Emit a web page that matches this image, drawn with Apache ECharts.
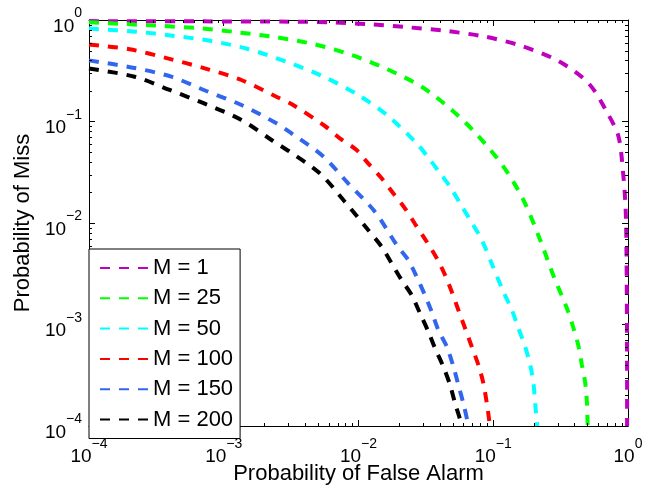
<!DOCTYPE html>
<html><head><meta charset="utf-8">
<script src="https://cdn.jsdelivr.net/npm/echarts@6/dist/echarts.min.js"></script>
<style>html,body{margin:0;padding:0;background:#fff}#c{width:661px;height:491px}</style>
</head><body><div id="c"></div>
<script>
const seriesNames = ['M = 1', 'M = 25', 'M = 50', 'M = 100', 'M = 150', 'M = 200'];
const seriesColors = ['#BF00BF', '#00FF00', '#00FFFF', '#FF0000', '#3366EE', '#000000'];

const pfaM1 = [1e-4, 6.6e-4, 3.27e-3, 6.31e-3, 0.0122, 0.0234, 0.0452, 0.087, 0.163, 0.305, 0.51, 0.717, 0.851, 0.918, 0.96, 0.974, 0.983, 0.985];
const pmM1  = [0.975, 0.97, 0.962, 0.949, 0.907, 0.847, 0.779, 0.685, 0.554, 0.394, 0.238, 0.116, 0.0709, 0.032, 0.014, 0.0054, 0.00088, 0.0001];

const pfaM25 = [1e-4, 1.84e-4, 3.52e-4, 6.82e-4, 1.27e-3, 2.46e-3, 4.74e-3, 8.89e-3, 0.0162, 0.0294, 0.0492, 0.0754, 0.119, 0.1675, 0.223, 0.2785, 0.352, 0.394, 0.43, 0.455, 0.482, 0.496, 0.501, 0.503];
const pmM25  = [0.95, 0.913, 0.873, 0.828, 0.756, 0.675, 0.576, 0.452, 0.329, 0.22, 0.13, 0.0748, 0.0359, 0.01685, 0.0068, 0.00307, 0.001445, 0.000918, 0.000604, 0.000399, 0.000263, 0.000167, 0.00011, 0.0001];

const pfaM50 = [1e-4, 2.24e-4, 4.17e-4, 8.09e-4, 1.507e-3, 2.92e-3, 5.32e-3, 9.68e-3, 0.0162, 0.027, 0.034, 0.0403, 0.0478, 0.0567, 0.0673, 0.0822, 0.0989, 0.119, 0.1374, 0.1538, 0.1725, 0.188, 0.1988, 0.2046, 0.2107, 0.212];
const pmM50  = [0.824, 0.767, 0.70, 0.621, 0.518, 0.388, 0.2826, 0.1866, 0.1159, 0.061, 0.0418, 0.0309, 0.0228, 0.01564, 0.01071, 0.0068, 0.00379, 0.0021, 0.00139, 0.000918, 0.000604, 0.000399, 0.000263, 0.000167, 0.00011, 0.0001];

const pfaM100 = [1e-4, 2.0e-4, 3.83e-4, 7.22e-4, 1.353e-3, 2.46e-3, 3.27e-3, 5.63e-3, 7.27e-3, 9.68e-3, 0.0118, 0.01485, 0.0181, 0.0221, 0.0263, 0.0321, 0.0381, 0.0439, 0.0492, 0.0551, 0.0618, 0.0693, 0.0776, 0.0845, 0.0896, 0.0936, 0.094];
const pmM100  = [0.573, 0.515, 0.419, 0.334, 0.2563, 0.1754, 0.1454, 0.0903, 0.0683, 0.0524, 0.0387, 0.02757, 0.01962, 0.01396, 0.00977, 0.00654, 0.00449, 0.00307, 0.0021, 0.00139, 0.000918, 0.000604, 0.000399, 0.000263, 0.000167, 0.00011, 0.0001];

const pfaM150 = [1e-4, 2.12e-4, 4.08e-4, 7.43e-4, 1.353e-3, 2.46e-3, 3.18e-3, 5.46e-3, 8.38e-3, 0.01324, 0.0192, 0.0234, 0.027, 0.0311, 0.0349, 0.0391, 0.0452, 0.0506, 0.0551, 0.060, 0.0647, 0.0652];
const pmM150  = [0.40, 0.339, 0.2763, 0.1998, 0.1454, 0.096, 0.0765, 0.0454, 0.0246, 0.01292, 0.00607, 0.00432, 0.00296, 0.00195, 0.00134, 0.000882, 0.000604, 0.000384, 0.000254, 0.000167, 0.000108, 0.0001];

const pfaM200 = [1e-4, 2.18e-4, 3.97e-4, 7.43e-4, 1.353e-3, 2.32e-3, 3.09e-3, 5.16e-3, 7.92e-3, 0.0118, 0.01485, 0.0176, 0.0209, 0.0248, 0.0286, 0.033, 0.037, 0.0426, 0.0478, 0.0521, 0.0574, 0.058];
const pmM200  = [0.333, 0.2763, 0.2044, 0.1477, 0.1035, 0.0643, 0.0504, 0.0309, 0.0162, 0.00853, 0.00584, 0.00401, 0.00274, 0.00195, 0.00129, 0.000849, 0.000583, 0.000384, 0.000254, 0.000167, 0.00011, 0.0001];

const tickExponents = [-4, -3, -2, -1, 0];
const axisMin = 1e-4, axisMax = 1;

const pfaList = [pfaM1, pfaM25, pfaM50, pfaM100, pfaM150, pfaM200];
const pmList = [pmM1, pmM25, pmM50, pmM100, pmM150, pmM200];

const FONT = '"Liberation Sans", Arial, Helvetica, sans-serif';

const minorVals = [];
for (let d = tickExponents[0]; d < tickExponents[tickExponents.length - 1]; d++) {
  for (let k = 2; k <= 9; k++) minorVals.push(k * Math.pow(10, d));
}

function fmt(v) {
  const e = Math.round(Math.log10(v));
  const s = e < 0 ? '\u2212' + Math.abs(e) : String(e);
  return '{b|10}{s|' + s + '}';
}
const rich = {
  b: { fontSize: 19, lineHeight: 19, padding: [13, 0, 0, 0], verticalAlign: 'middle', color: '#000', fontFamily: FONT },
  s: { fontSize: 14, lineHeight: 14, padding: [0, 0, 13, 0], verticalAlign: 'middle', color: '#000', fontFamily: FONT }
};

const lineSeries = seriesNames.map((n, i) => ({
  name: n,
  type: 'line',
  xAxisIndex: 0, yAxisIndex: 0,
  data: pfaList[i].map((x, j) => [x, pmList[i][j]]),
  showSymbol: false,
  symbol: 'none',
  smooth: 0.3,
  lineStyle: { color: seriesColors[i], width: 4, type: [10, 9], cap: 'butt' },
  itemStyle: { color: seriesColors[i] },
  z: 3
}));

const tickStyle = { stroke: '#000', lineWidth: 1 };
const minorX = {
  type: 'custom', silent: true, xAxisIndex: 0, yAxisIndex: 0, z: 5,
  data: minorVals.map(v => [v, 0.01]),
  renderItem: (params, api) => {
    const x = api.value(0);
    const pb = api.coord([x, axisMin]);
    const pt = api.coord([x, axisMax]);
    const xx = Math.round(pb[0]) + 0.5;
    return { type: 'group', children: [
      { type: 'line', shape: { x1: xx, y1: pb[1], x2: xx, y2: pb[1] - 3 }, style: tickStyle },
      { type: 'line', shape: { x1: xx, y1: pt[1], x2: xx, y2: pt[1] + 3 }, style: tickStyle }
    ]};
  }
};
const minorY = {
  type: 'custom', silent: true, xAxisIndex: 0, yAxisIndex: 0, z: 5,
  data: minorVals.map(v => [0.01, v]),
  renderItem: (params, api) => {
    const y = api.value(1);
    const pl = api.coord([axisMin, y]);
    const pr = api.coord([axisMax, y]);
    const yy = Math.round(pl[1]) + 0.5;
    return { type: 'group', children: [
      { type: 'line', shape: { x1: pl[0], y1: yy, x2: pl[0] + 3, y2: yy }, style: tickStyle },
      { type: 'line', shape: { x1: pr[0], y1: yy, x2: pr[0] - 3, y2: yy }, style: tickStyle }
    ]};
  }
};

const axisCommon = {
  type: 'log', logBase: 10, min: axisMin, max: axisMax,
  axisLine: { show: true, onZero: false, lineStyle: { color: '#000', width: 1 } },
  axisTick: { show: true, inside: true, length: 6, lineStyle: { color: '#000', width: 1 } },
  splitLine: { show: false },
  minorTick: { show: false },
  minorSplitLine: { show: false }
};

const chart = echarts.init(document.getElementById('c'), null, { renderer: 'canvas' });
chart.setOption({
  animation: false,
  backgroundColor: '#fff',
  textStyle: { fontFamily: FONT },
  grid: { left: 89, right: 33, top: 20, bottom: 65, containLabel: false, outerBoundsMode: 'none' },
  legend: {
    data: seriesNames,
    orient: 'vertical',
    left: 89, top: 249,
    padding: [8, 7, 8, 10],
    itemWidth: 48, itemHeight: 14, itemGap: 8.3,
    itemStyle: { opacity: 0, borderWidth: 0 },
    backgroundColor: '#fff', borderColor: '#000', borderWidth: 1, borderRadius: 0,
    textStyle: { fontSize: 22, lineHeight: 20, color: '#000', fontFamily: FONT },
    selectedMode: false,
    z: 10
  },
  xAxis: [
    Object.assign({}, axisCommon, {
      position: 'bottom',
      name: 'Probability of False Alarm', nameLocation: 'middle', nameGap: 37,
      nameMoveOverlap: false,
      nameTextStyle: { fontSize: 22, color: '#000', fontFamily: FONT },
      axisLabel: { show: true, margin: 15, formatter: fmt, rich: rich, showMinLabel: true, showMaxLabel: true, hideOverlap: false }
    }),
    Object.assign({}, axisCommon, { position: 'top', axisLabel: { show: false } })
  ],
  yAxis: [
    Object.assign({}, axisCommon, {
      position: 'left',
      name: 'Probability of Miss', nameLocation: 'middle', nameGap: 55,
      nameMoveOverlap: false,
      nameTextStyle: { fontSize: 22, color: '#000', fontFamily: FONT },
      axisLabel: { show: true, margin: 7, formatter: fmt, rich: rich, showMinLabel: true, showMaxLabel: true, hideOverlap: false }
    }),
    Object.assign({}, axisCommon, { position: 'right', axisLabel: { show: false } })
  ],
  series: lineSeries.concat([minorX, minorY])
});
</script>
</body></html>
